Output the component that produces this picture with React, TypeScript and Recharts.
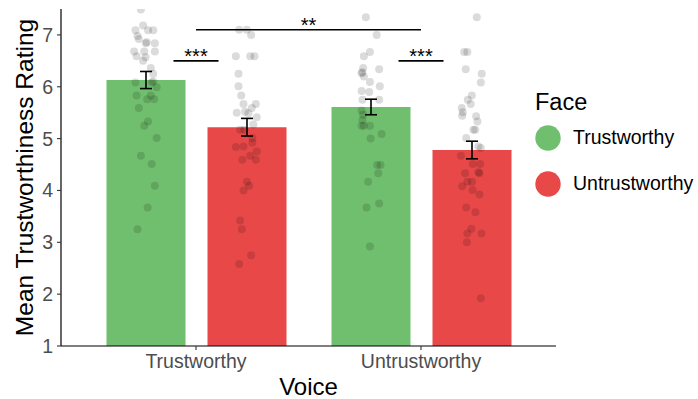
import React from 'react';
import { ComposedChart, Bar, ErrorBar, XAxis, YAxis, Scatter, ReferenceLine, Legend, Label } from 'recharts';

const FONT = '"Liberation Sans", Arial, Helvetica, sans-serif';

const voices = ['Trustworthy', 'Untrustworthy'];
const faces = ['Trustworthy', 'Untrustworthy'];
const faceColors = ['#70BF6E', '#E94849'];
const meanTrustFace = [6.13, 5.61];
const seTrustFace = [0.165, 0.15];
const meanUntrustFace = [5.22, 4.78];
const seUntrustFace = [0.17, 0.17];
const yTicks = [1, 2, 3, 4, 5, 6, 7];

// individual participant ratings: [horizontal jitter (category units), rating]
const ptsTT = [[-0.020,7.49],[-0.010,7.18],[-0.044,7.09],[0.012,7.09],[0.035,7.09],[-0.035,6.98],[-0.029,6.92],[0.002,6.84],[0.006,6.86],[0.042,6.84],[-0.050,6.68],[-0.005,6.68],[0.042,6.68],[-0.039,6.59],[0.001,6.57],[-0.010,6.50],[0.024,6.36],[0.035,6.25],[0.035,6.10],[-0.044,6.08],[0.028,6.08],[0.050,5.99],[-0.039,5.83],[0.024,5.83],[0.008,5.76],[0.039,5.76],[-0.029,5.59],[0.012,5.33],[-0.005,5.25],[0.050,5.01],[-0.020,4.67],[0.028,4.51],[0.042,4.09],[0.010,3.67],[-0.035,3.25]];
const ptsTU = [[-0.033,7.10],[0.001,7.10],[0.020,7.00],[-0.048,6.59],[0.016,6.59],[0.035,6.59],[-0.036,6.25],[-0.036,6.01],[-0.024,5.83],[-0.014,5.67],[0.041,5.67],[0.023,5.59],[-0.044,5.50],[-0.007,5.52],[0.008,5.49],[0.045,5.41],[0.030,5.27],[-0.029,5.17],[-0.010,5.17],[0.026,5.01],[-0.014,4.85],[-0.048,4.84],[0.026,4.92],[0.045,4.75],[0.016,4.67],[-0.019,4.59],[0.041,4.59],[0.001,4.17],[0.011,4.09],[-0.014,4.00],[-0.029,3.42],[-0.021,3.25],[0.020,2.75],[-0.033,2.58]];
const ptsUT = [[-0.020,7.34],[0.028,7.00],[-0.002,6.67],[-0.029,6.59],[-0.032,6.36],[-0.039,6.26],[-0.036,6.28],[0.039,6.34],[-0.029,6.20],[-0.002,6.09],[0.042,6.01],[-0.039,5.92],[-0.005,5.90],[-0.035,5.75],[0.039,5.75],[-0.039,5.54],[-0.032,5.46],[-0.035,5.36],[-0.029,5.25],[-0.002,5.25],[-0.039,5.25],[0.050,5.09],[0.001,5.00],[0.030,4.49],[0.045,4.49],[0.035,4.33],[-0.010,4.17],[-0.017,3.67],[0.039,3.75],[-0.002,2.92]];
const ptsUU = [[0.023,7.34],[-0.033,6.67],[-0.019,6.67],[-0.026,6.34],[0.045,6.25],[0.041,6.08],[0.001,5.83],[-0.017,5.75],[-0.004,5.67],[-0.044,5.59],[-0.039,5.51],[-0.042,5.44],[0.020,5.43],[0.026,5.33],[0.008,5.17],[0.016,5.17],[-0.024,5.01],[0.030,4.85],[0.041,4.82],[-0.048,4.67],[0.005,4.51],[0.038,4.51],[-0.029,4.33],[0.035,4.33],[0.030,4.35],[-0.019,4.17],[0.002,4.17],[-0.042,4.08],[0.004,4.01],[0.035,3.92],[-0.024,3.67],[0.017,3.58],[-0.001,3.26],[-0.019,3.17],[0.044,3.17],[-0.021,3.00],[0.041,1.92]];

// significance brackets: from/to in category units (1 = first voice), y in rating units
const sigFrom = [0.9, 1.9, 1.0];
const sigTo = [1.1, 2.1, 2.0];
const sigY = [6.5, 6.5, 7.1];
const sigText = ['***', '***', '**'];

const DODGE = 0.225;

const barData = voices.map((v, i) => ({
  voice: v,
  tf: meanTrustFace[i],
  tfErr: seTrustFace[i],
  uf: meanUntrustFace[i],
  ufErr: seUntrustFace[i],
}));

const groups = [
  { vi: 0, fi: 0, pts: ptsTT },
  { vi: 0, fi: 1, pts: ptsTU },
  { vi: 1, fi: 0, pts: ptsUT },
  { vi: 1, fi: 1, pts: ptsUU },
];
const scatterData = groups.flatMap((g) =>
  g.pts.map(([j, y]) => ({ x: g.vi + 1 + (g.fi === 0 ? -DODGE : DODGE) + j, y }))
);

const Dot = (p: any) => <circle cx={p.cx} cy={p.cy} r={4} fill="#000" fillOpacity={0.14} />;

const SigLabel = (p: any) => {
  const vb = p.viewBox || {};
  const cx = vb.x + (vb.width || 0) / 2;
  return (
    <text x={cx} y={vb.y + 2.5} textAnchor="middle" fontSize={20} fill="#000" fontFamily={FONT}>
      {p.value}
    </text>
  );
};

const YTitle = (p: any) => {
  const vb = p.viewBox;
  const x = vb.x + 33;
  const y = vb.y + vb.height / 2;
  return (
    <text x={x} y={y} transform={`rotate(-90 ${x} ${y})`} textAnchor="middle" fontSize={24.5} fill="#000" fontFamily={FONT}>
      Mean Trustworthiness Rating
    </text>
  );
};

const XTitle = (p: any) => {
  const vb = p.viewBox;
  const x = vb.x + vb.width / 2;
  const y = vb.y + 49;
  return (
    <text x={x} y={y} textAnchor="middle" fontSize={24} fill="#000" fontFamily={FONT}>
      Voice
    </text>
  );
};

const LegendContent = () => (
  <div style={{ fontFamily: FONT, color: '#000' }}>
    <div style={{ fontSize: 23.5, lineHeight: '26px' }}>Face</div>
    {faces.map((f, i) => (
      <div key={f} style={{ display: 'flex', alignItems: 'center', height: 46 }}>
        <svg width={26} height={26} style={{ display: 'block' }}>
          <circle cx={13} cy={13} r={12.7} fill={faceColors[i]} />
        </svg>
        <span style={{ marginLeft: 12, fontSize: 19.5 }}>{f}</span>
      </div>
    ))}
  </div>
);

export default function App() {
  return (
    <div style={{ position: 'absolute', left: 0, top: 0, fontFamily: FONT, background: '#fff' }}>
      <ComposedChart
        width={698}
        height={399}
        data={barData}
        margin={{ top: 9, right: 142, bottom: 0, left: 0 }}
        barSize={79}
        barGap={22}
      >
        <XAxis
          dataKey="voice"
          type="category"
          height={53}
          padding={{ left: 22.5, right: 22.5 }}
          tickSize={4}
          tickMargin={4}
          axisLine={{ stroke: '#000', strokeWidth: 1.2 }}
          tickLine={{ stroke: '#333', strokeWidth: 1.1 }}
          tick={{ fill: '#4D4D4D', fontSize: 19.5 }}
        >
          <Label content={XTitle} />
        </XAxis>
        <XAxis xAxisId="num" dataKey="x" type="number" domain={[0.4, 2.6]} hide allowDataOverflow />
        <YAxis
          type="number"
          domain={[1, 7.5]}
          ticks={yTicks}
          allowDataOverflow
          width={61}
          tickSize={4}
          tickMargin={4}
          axisLine={{ stroke: '#000', strokeWidth: 1.2 }}
          tickLine={{ stroke: '#333', strokeWidth: 1.1 }}
          tick={{ fill: '#4D4D4D', fontSize: 19.5 }}
        >
          <Label content={YTitle} />
        </YAxis>
        <Bar dataKey="tf" name={faces[0]} fill={faceColors[0]} isAnimationActive={false}>
          <ErrorBar dataKey="tfErr" width={6} strokeWidth={1.6} stroke="#000" direction="y" />
        </Bar>
        <Bar dataKey="uf" name={faces[1]} fill={faceColors[1]} isAnimationActive={false}>
          <ErrorBar dataKey="ufErr" width={6} strokeWidth={1.6} stroke="#000" direction="y" />
        </Bar>
        <Scatter xAxisId="num" data={scatterData} dataKey="y" shape={Dot} isAnimationActive={false} legendType="none" />
        {sigText.map((t, i) => (
          <ReferenceLine
            key={i}
            xAxisId="num"
            segment={[{ x: sigFrom[i], y: sigY[i] }, { x: sigTo[i], y: sigY[i] }]}
            stroke="#000"
            strokeWidth={1.6}
            ifOverflow="visible"
            label={<Label value={t} content={SigLabel} />}
          />
        ))}
        <Legend
          layout="vertical"
          align="center"
          verticalAlign="middle"
          content={LegendContent}
          wrapperStyle={{ left: 535, top: 88.8, width: 163 }}
        />
      </ComposedChart>
    </div>
  );
}
